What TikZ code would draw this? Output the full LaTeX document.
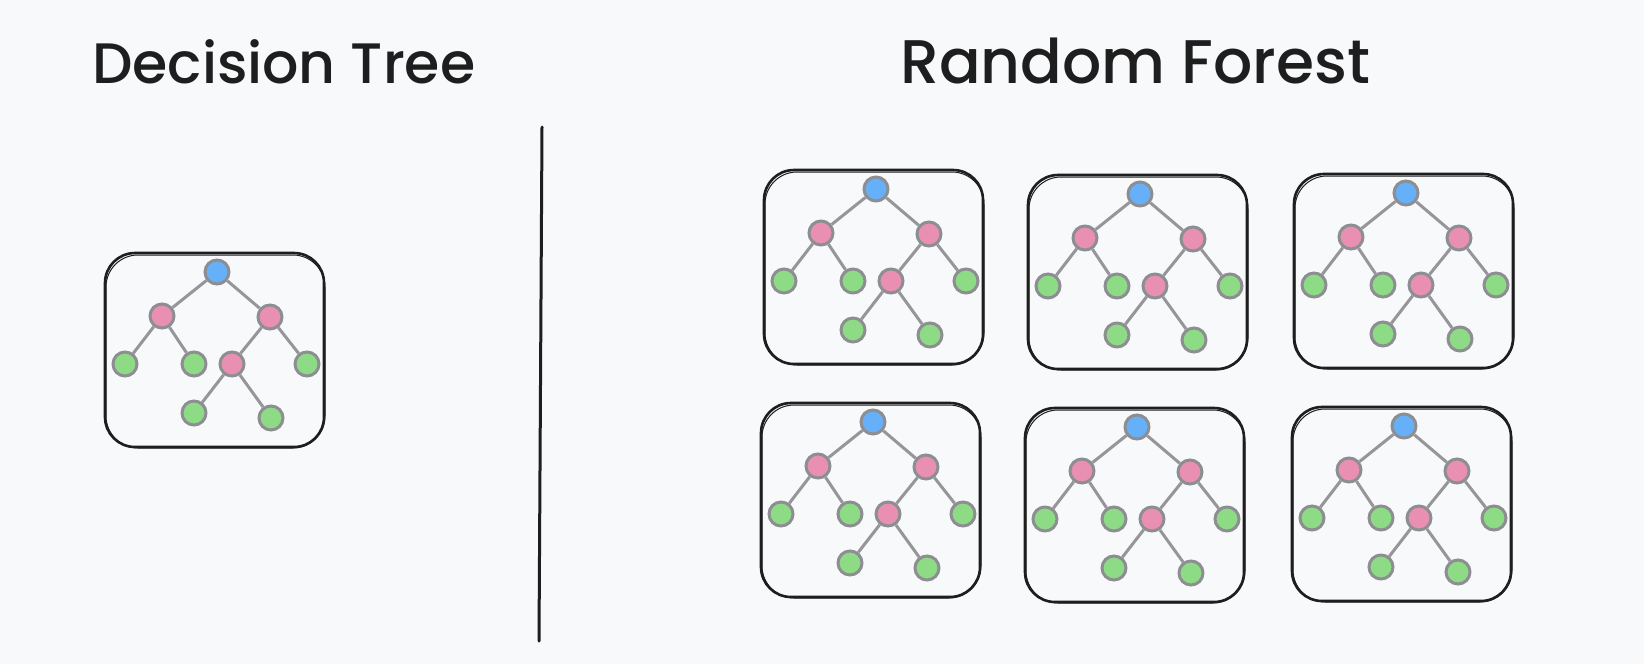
\documentclass[tikz,border=0pt]{standalone}
\usepackage{fontspec}
\setmainfont{Poppins}
\newfontfamily\headfont{Poppins Medium}
\usepackage{graphicx}
\usetikzlibrary{calc}

\definecolor{paper}{RGB}{248,249,250}
\definecolor{ink}{RGB}{30,30,30}
\definecolor{nodegray}{RGB}{140,142,146}
\definecolor{edgegray}{RGB}{150,150,152}
\definecolor{rootblue}{RGB}{102,176,250}
\definecolor{splitpink}{RGB}{233,143,178}
\definecolor{leafgreen}{RGB}{142,219,134}

\tikzset{
  treenode/.style={circle, draw=nodegray, line width=3pt, minimum size=24pt, inner sep=0pt},
  rootnode/.style={treenode, fill=rootblue},
  splitnode/.style={treenode, fill=splitpink},
  leafnode/.style={treenode, fill=leafgreen},
  branch/.style={draw=edgegray, line width=3pt},
  frame/.style={draw=ink, line width=2.6pt, rounded corners=30pt},
  frameecho/.style={draw=ink, line width=1pt, rounded corners=32pt},
  divider/.style={draw=ink, line width=3pt, line cap=round},
  title/.style={text=ink, inner sep=0pt, anchor=base west, font=\headfont},
}

% One framed binary tree; #1 = name prefix, (#2,#3) = position of the root
\newcommand\drawtree[3]{%
  \begin{scope}[shift={(#2,#3)}]
    \draw[frame] (-112,-19) rectangle (107,175);
    \draw[frameecho] (-111,-17) rectangle (108,176);
    \node[rootnode]  (#1-r) at (0,0)     {};
    \node[splitnode] (#1-a) at (-55,44)  {};
    \node[splitnode] (#1-b) at (53,45)   {};
    \node[leafnode]  (#1-c) at (-92,92)  {};
    \node[leafnode]  (#1-d) at (-23,92)  {};
    \node[splitnode] (#1-e) at (15,92)   {};
    \node[leafnode]  (#1-f) at (90,92)   {};
    \node[leafnode]  (#1-g) at (-23,141) {};
    \node[leafnode]  (#1-h) at (54,146)  {};
    \draw[branch] (#1-r) -- (#1-a);
    \draw[branch] (#1-r) -- (#1-b);
    \draw[branch] (#1-a) -- (#1-c);
    \draw[branch] (#1-a) -- (#1-d);
    \draw[branch] (#1-b) -- (#1-e);
    \draw[branch] (#1-b) -- (#1-f);
    \draw[branch] (#1-e) -- (#1-g);
    \draw[branch] (#1-e) -- (#1-h);
  \end{scope}}

\begin{document}
\begin{tikzpicture}[x=1pt, y=-1pt]
  \fill[paper] (0,0) rectangle (1644,664);
  \useasboundingbox (0,0) rectangle (1644,664);

  % headings
  \node[title] (dt) at (92,83) {\resizebox{383pt}{!}{Decision Tree}};
  \node[title] (rf) at (900,83) {\resizebox{470pt}{!}{Random Forest}};

  % separator between the two halves
  \coordinate (sepTop) at (542,127);
  \coordinate (sepBottom) at (539,641);
  \draw[divider] (sepTop) -- (sepBottom);

  % single decision tree
  \drawtree{single}{217}{272}

  % the forest: two rows of three trees
  \drawtree{t1}{876}{189}
  \drawtree{t2}{1140}{194}
  \drawtree{t3}{1406}{193}
  \drawtree{t4}{873}{422}
  \drawtree{t5}{1137}{427}
  \drawtree{t6}{1404}{426}
\end{tikzpicture}
\end{document}
